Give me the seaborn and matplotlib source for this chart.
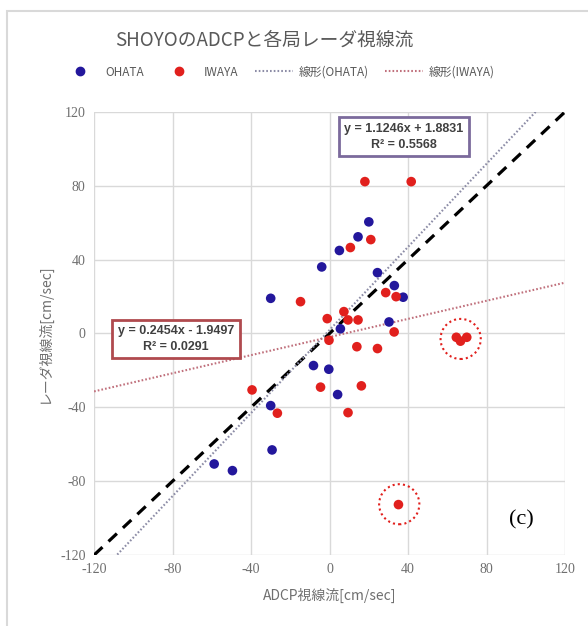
import matplotlib
matplotlib.use("Agg")
import matplotlib.pyplot as plt
import seaborn as sns
import pandas as pd
import numpy as np
from matplotlib.lines import Line2D
from matplotlib.patches import Ellipse, Rectangle

# data
ohata_x = [-30, 20, 14.5, 5, -4, 24.4, 33, 37.5, 30.3, 5.5, -8.2, -0.4, 4.1, -30, -29.3, -58.8, -49.5]
ohata_y = [19, 60.4, 52.3, 44.9, 36, 32.9, 25.9, 19.6, 6.2, 2.5, -17.4, -19.4, -33.1, -39.1, -63.1, -70.7, -74.3]
iwaya_x = [18, 41.6, 21, 10.6, 28.6, 33.9, -14.8, 7.3, -1.2, 9.4, 14.5, 32.9, -0.3, 13.9, 24.4,
           64.6, 69.9, 66.7, -4.6, 16.2, 9.4, 35.1, -39.5, -26.6]
iwaya_y = [82.2, 82.2, 50.8, 46.5, 22.1, 19.9, 17.2, 11.8, 8, 7.3, 7.3, 0.8, -3.7, -7.2, -8.2,
           -2.1, -2.1, -4.2, -29.1, -28.4, -42.9, -92.7, -30.6, -43.2]

# trend lines (from the chart's equations)
fit_ohata = [1.1246, 1.8831]
fit_iwaya = [0.2454, -1.9497]
r2_ohata = 0.5568
r2_iwaya = 0.0291

ticks = [-120, -80, -40, 0, 40, 80, 120]

# circled outliers (center x, center y)
circled = [(66.8, -3.0), (35.5, -92.5)]

blue = "#23179c"
red = "#e1201d"
grey = "#595959"

df = pd.DataFrame({
    "x": ohata_x + iwaya_x,
    "y": ohata_y + iwaya_y,
    "station": ["OHATA"] * len(ohata_x) + ["IWAYA"] * len(iwaya_x),
})

sns.set_theme(style="whitegrid")
plt.rcParams["font.family"] = ["Noto Sans CJK JP", "DejaVu Sans"]
plt.rcParams["axes.unicode_minus"] = False

fig = plt.figure(figsize=(5.88, 6.26), dpi=100)
ax = fig.add_axes([0.160, 0.1134, 0.801, 0.708])

# outer chart border
fig.patches.append(Rectangle((7 / 588, -0.05), 1.2, 1 - 11 / 626 + 0.05, transform=fig.transFigure,
                             fill=False, edgecolor="#d9d9d9", linewidth=1.5, zorder=0))

xs = np.array([-120, 120])
ax.plot(xs, xs, color="black", linestyle=(0, (3.6, 2.6)), linewidth=2.3, zorder=2)
ax.plot(xs, fit_ohata[0] * xs + fit_ohata[1], color="#8c8ca6", linestyle=(0, (0.8, 1.0)), linewidth=1.5, zorder=2)
ax.plot(xs, fit_iwaya[0] * xs + fit_iwaya[1], color="#c0707c", linestyle=(0, (0.8, 1.0)), linewidth=1.5, zorder=2)

sns.scatterplot(data=df, x="x", y="y", hue="station", palette={"OHATA": blue, "IWAYA": red},
                s=48, linewidth=0, legend=False, ax=ax, zorder=3)

for cx, cy in circled:
    ax.add_patch(Ellipse((cx, cy), 20.5, 21.7, fill=False, edgecolor=red,
                         linestyle=(0, (1, 1.5)), linewidth=1.5, zorder=4))

ax.set_xlim(-120, 120)
ax.set_ylim(-120, 120)
ax.set_xticks(ticks)
ax.set_yticks(ticks)
ax.grid(True, color="#d9d9d9", linewidth=1)
for sp in ax.spines.values():
    sp.set_visible(False)
ax.tick_params(length=0, pad=6)
for lab in ax.get_xticklabels() + ax.get_yticklabels():
    lab.set_family("Liberation Serif")
    lab.set_fontsize(10)
    lab.set_color("#6f6f6f")

ax.set_xlabel("ADCP視線流[cm/sec]", fontsize=10, color="#6f6f6f", labelpad=8)
ax.set_ylabel("レーダ視線流[cm/sec]", fontsize=10, color="#6f6f6f", labelpad=6)

ax.text(37.9, 106.4, f"y = {fit_ohata[0]:.4f}x + {fit_ohata[1]:.4f}\nR² = {r2_ohata:.4f}",
        ha="center", va="center", fontsize=9, fontweight="bold", color="#404040",
        family=["Liberation Sans"], linespacing=1.4,
        bbox=dict(boxstyle="square,pad=0.45", facecolor="white", edgecolor="#7b6a9c", linewidth=2), zorder=5)
ax.text(-78.3, -3.0, f"y = {fit_iwaya[0]:.4f}x - {abs(fit_iwaya[1]):.4f}\nR² = {r2_iwaya:.4f}",
        ha="center", va="center", fontsize=9, fontweight="bold", color="#404040",
        family=["Liberation Sans"], linespacing=1.4,
        bbox=dict(boxstyle="square,pad=0.45", facecolor="white", edgecolor="#b04a4e", linewidth=2), zorder=5)

ax.text(97.7, -101, "(c)", ha="center", va="center", fontsize=16, color="black",
        family=["Liberation Serif"], zorder=5)

fig.text(0.45, 1 - 40 / 626, "SHOYOのADCPと各局レーダ視線流", ha="center", va="center",
         fontsize=13.5, color=grey)

handles = [
    Line2D([], [], marker="o", linestyle="none", color=blue, markersize=6),
    Line2D([], [], marker="o", linestyle="none", color=red, markersize=6),
    Line2D([], [], color="#8c8ca6", linestyle=(0, (0.8, 1.0)), linewidth=1.5),
    Line2D([], [], color="#c0707c", linestyle=(0, (0.8, 1.0)), linewidth=1.5),
]
labels = ["OHATA", "IWAYA", "線形(OHATA)", "線形(IWAYA)"]
leg = fig.legend(handles, labels, loc="center", bbox_to_anchor=(0.473, 1 - 72 / 626), ncol=4,
                 frameon=False, fontsize=8.5, handlelength=3.2, columnspacing=1.4, handletextpad=0.5)
for t in leg.get_texts():
    t.set_color(grey)

fig.savefig("out.png", dpi=100, facecolor="white")
